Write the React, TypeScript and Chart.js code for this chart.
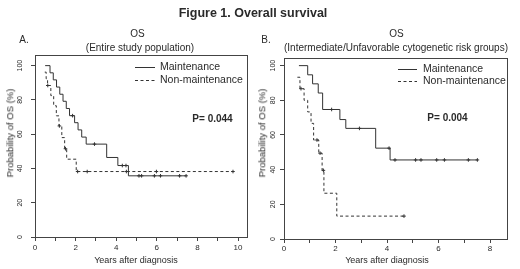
import React, { useEffect, useRef } from 'react';
import { Chart, registerables } from 'chart.js';

Chart.register(...registerables);

// ---------- Panel A data (Entire study population) ----------
const aMaintT = [0.5, 0.74, 0.9, 1.06, 1.22, 1.38, 1.54, 1.7, 1.95, 2.12, 2.3, 2.52, 3.53, 4.08, 4.6, 7.45];
const aMaintS = [100, 95.8, 91.7, 87.5, 83.3, 79.2, 75.0, 70.8, 66.7, 62.5, 58.3, 54.2, 46.4, 41.7, 35.7, 35.7];
const aMaintCensT = [1.85, 2.93, 4.3, 4.48, 5.12, 5.25, 5.88, 6.18, 7.12, 7.44];
const aMaintCensS = [70.8, 54.2, 41.7, 41.7, 35.7, 35.7, 35.7, 35.7, 35.7, 35.7];
const aNonT = [0.48, 0.55, 0.62, 0.78, 0.92, 1.05, 1.18, 1.32, 1.46, 1.56, 2.03, 9.76];
const aNonS = [96.2, 92.3, 88.4, 82.5, 76.6, 70.7, 64.8, 58.0, 51.5, 45.4, 38.2, 38.2];
const aNonCensT = [0.63, 1.2, 1.5, 2.1, 2.57, 4.5, 5.98, 9.75];
const aNonCensS = [88.4, 64.8, 51.5, 38.2, 38.2, 38.2, 38.2, 38.2];
const aXTicks = [0, 1, 2, 3, 4, 5, 6, 7, 8, 9, 10];
const aXLabels = ['0', '', '2', '', '4', '', '6', '', '8', '', '10'];

// ---------- Panel B data (Intermediate/Unfavorable cytogenetic risk groups) ----------
const bMaintT = [0.58, 0.92, 1.11, 1.33, 1.5, 2.17, 2.4, 3.56, 4.12, 7.51];
const bMaintS = [100, 94.7, 89.5, 84.2, 74.7, 68.9, 63.8, 52.4, 45.6, 45.6];
const bMaintCensT = [1.85, 2.93, 4.08, 4.31, 5.11, 5.32, 5.93, 6.23, 7.16, 7.51];
const bMaintCensS = [74.7, 63.8, 52.4, 45.6, 45.6, 45.6, 45.6, 45.6, 45.6, 45.6];
const bNonT = [0.52, 0.62, 0.78, 0.92, 1.05, 1.15, 1.35, 1.48, 1.55, 2.05, 4.66];
const bNonS = [93.3, 86.7, 80.0, 73.3, 66.7, 57.1, 49.5, 39.6, 26.4, 13.2, 13.2];
const bNonCensT = [0.66, 1.28, 1.4, 1.53, 4.66];
const bNonCensS = [86.7, 57.1, 49.5, 39.6, 13.2];
const bXTicks = [0, 1, 2, 3, 4, 5, 6, 7, 8];
const bXLabels = ['0', '', '2', '', '4', '', '6', '', '8'];

const yTicks = [0, 20, 40, 60, 80, 100];
const yLabels = ['0', '20', '40', '60', '80', '100'];
const seriesNames = ['Maintenance', 'Non-maintenance'];

const FONT = '"Liberation Sans", Arial, sans-serif';
const INK = '#2a2a2a';
const LINE = '#333333';

const pts = (t: number[], s: number[]) => t.map((x, i) => ({ x, y: s[i] }));

const decorPlugin = {
  id: 'panelDecor',
  afterDraw(chart: any, _args: any, opts: any) {
    const { ctx, chartArea } = chart;
    const ys = chart.scales.y;
    ctx.save();
    // box
    ctx.strokeStyle = '#444';
    ctx.lineWidth = 1;
    ctx.setLineDash([]);
    ctx.strokeRect(Math.round(chartArea.left) + 0.5, Math.round(chartArea.top) + 0.5,
      Math.round(chartArea.right - chartArea.left), Math.round(chartArea.bottom - chartArea.top));
    // y tick labels rotated
    ctx.fillStyle = INK;
    ctx.font = `7px ${FONT}`;
    ctx.textAlign = 'center';
    ctx.textBaseline = 'middle';
    yTicks.forEach((v, i) => {
      const py = ys.getPixelForValue(v);
      ctx.save();
      ctx.translate(opts.yLabelX, py);
      ctx.rotate(-Math.PI / 2);
      ctx.fillText(yLabels[i], 0, 0);
      ctx.restore();
    });
    // legend
    ctx.font = `10.5px ${FONT}`;
    ctx.textAlign = 'left';
    seriesNames.forEach((name, i) => {
      const ly = opts.legendY + i * opts.legendGap;
      ctx.beginPath();
      ctx.strokeStyle = LINE;
      ctx.lineWidth = 1;
      ctx.setLineDash(i === 0 ? [] : [3, 2.5]);
      ctx.moveTo(opts.legendX, ly + 0.5);
      ctx.lineTo(opts.legendX + opts.legendLen, ly + 0.5);
      ctx.stroke();
      ctx.setLineDash([]);
      ctx.fillText(name, opts.legendX + opts.legendLen + opts.legendTextGap, ly);
    });
    // p-value
    ctx.font = `bold 10px ${FONT}`;
    ctx.textAlign = 'center';
    ctx.fillText(opts.pText, opts.pX, opts.pY);
    ctx.restore();
  },
};

function makeConfig(p: any) {
  return {
    type: 'line',
    data: {
      datasets: [
        { label: seriesNames[0], data: pts(p.mT, p.mS), stepped: 'before', borderColor: LINE, borderWidth: 1, pointRadius: 0, fill: false },
        { label: seriesNames[1], data: pts(p.nT, p.nS), stepped: 'before', borderColor: LINE, borderWidth: 1, borderDash: [3, 2.5], pointRadius: 0, fill: false },
        { label: 'c1', data: pts(p.mcT, p.mcS), showLine: false, pointStyle: 'cross', pointRadius: 1.8, pointBorderWidth: 1, borderColor: LINE, pointBorderColor: LINE },
        { label: 'c2', data: pts(p.ncT, p.ncS), showLine: false, pointStyle: 'cross', pointRadius: 1.8, pointBorderWidth: 1, borderColor: LINE, pointBorderColor: LINE },
      ],
    },
    options: {
      responsive: false,
      maintainAspectRatio: false,
      animation: false,
      events: [],
      layout: { padding: { left: 0, right: p.padRight, top: p.padTop, bottom: 0 } },
      plugins: {
        legend: { display: false },
        tooltip: { enabled: false },
        panelDecor: p.decor,
      },
      scales: {
        x: {
          type: 'linear',
          min: 0,
          max: p.xMax,
          afterBuildTicks: (s: any) => { s.ticks = p.xTicks.map((v: number) => ({ value: v })); },
          afterFit: (s: any) => { s.height = p.xHeight; },
          ticks: {
            autoSkip: false,
            maxRotation: 0,
            minRotation: 0,
            padding: p.xPad,
            color: INK,
            font: { family: FONT, size: 8 },
            callback: (v: number) => { const i = p.xTicks.indexOf(v); return i >= 0 ? p.xLabels[i] : ''; },
          },
          grid: { drawOnChartArea: false, drawTicks: true, tickLength: 4, color: '#444' },
          border: { display: false },
        },
        y: {
          type: 'linear',
          min: 0,
          max: p.yMax,
          afterBuildTicks: (s: any) => { s.ticks = yTicks.map((v) => ({ value: v })); },
          afterFit: (s: any) => { s.width = p.yWidth; },
          ticks: { display: false },
          grid: { drawOnChartArea: false, drawTicks: true, tickLength: 4, color: '#444' },
          border: { display: false },
        },
      },
    },
    plugins: [decorPlugin],
  };
}

function Panel(props: { cfg: any; left: number; width: number }) {
  const ref = useRef<HTMLCanvasElement | null>(null);
  useEffect(() => {
    if (!ref.current) return;
    const chart = new Chart(ref.current, makeConfig(props.cfg) as any);
    return () => chart.destroy();
  }, []);
  return (
    <canvas
      ref={ref}
      width={props.width}
      height={269}
      style={{ position: 'absolute', left: props.left, top: 0, width: props.width, height: 269 }}
    />
  );
}

const txt = (x: number, y: number, s: string, size: number, extra: any = {}) => (
  <div
    style={{
      position: 'absolute', left: x, top: y, transform: `translate(-50%, -50%)${extra.rot ? ' rotate(-90deg)' : ''}`,
      whiteSpace: 'nowrap', fontFamily: FONT, fontSize: size, color: INK, lineHeight: 1,
      fontWeight: extra.bold ? 'bold' : 'normal',
    }}
  >
    {s}
  </div>
);

export default function App() {
  const cfgA = {
    mT: aMaintT, mS: aMaintS, mcT: aMaintCensT, mcS: aMaintCensS,
    nT: aNonT, nS: aNonS, ncT: aNonCensT, ncS: aNonCensS,
    xTicks: aXTicks, xLabels: aXLabels, xMax: 10.44, yMax: 106.2,
    padRight: 11, padTop: 55, xHeight: 32, yWidth: 35, xPad: 2,
    decor: { yLabelX: 20.5, legendX: 135, legendY: 67, legendGap: 13, legendLen: 20, legendTextGap: 5, pText: 'P= 0.044', pX: 212.5, pY: 119 },
  };
  const cfgB = {
    mT: bMaintT, mS: bMaintS, mcT: bMaintCensT, mcS: bMaintCensS,
    nT: bNonT, nS: bNonS, ncT: bNonCensT, ncS: bNonCensS,
    xTicks: bXTicks, xLabels: bXLabels, xMax: 8.66, yMax: 104.4,
    padRight: 13, padTop: 58, xHeight: 30, yWidth: 26, xPad: 1,
    decor: { yLabelX: 15, legendX: 140, legendY: 69, legendGap: 12, legendLen: 19, legendTextGap: 6, pText: 'P= 0.004', pX: 189.5, pY: 118.5 },
  };
  return (
    <div style={{ position: 'absolute', left: 0, top: 0, width: 520, height: 269, background: '#fff', overflow: 'hidden' }}>
      <Panel cfg={cfgA} left={0} width={258} />
      <Panel cfg={cfgB} left={258} width={262} />
      {txt(253, 12.5, 'Figure 1. Overall survival', 12.5, { bold: true })}
      {txt(24, 39.5, 'A.', 10)}
      {txt(137.5, 34, 'OS', 10)}
      {txt(140, 47.5, '(Entire study population)', 10)}
      {txt(266, 39.5, 'B.', 10)}
      {txt(396.5, 34, 'OS', 10)}
      {txt(396, 47.5, '(Intermediate/Unfavorable cytogenetic risk groups)', 10)}
      {txt(10, 133, 'Probability of OS (%)', 9.5, { rot: true })}
      {txt(262, 133, 'Probability of OS (%)', 9.5, { rot: true })}
      {txt(136, 260, 'Years after diagnosis', 9)}
      {txt(387, 260, 'Years after diagnosis', 9)}
    </div>
  );
}
